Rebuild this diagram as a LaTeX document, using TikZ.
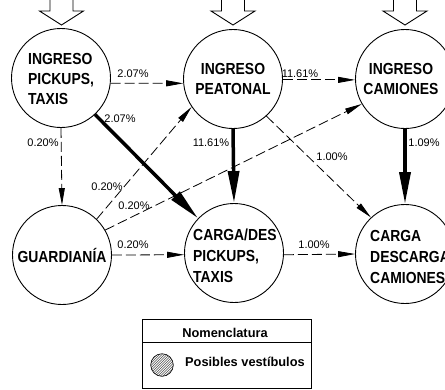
\documentclass[tikz,border=0pt]{standalone}
\usepackage{fontspec}
\setmainfont{Liberation Sans}
\newfontfamily\cadfont[FakeStretch=0.87]{Liberation Sans}
\usetikzlibrary{arrows.meta}
\begin{document}
\begin{tikzpicture}[x=1pt,y=-1pt,
 circ/.style={circle,draw,line width=0.9pt,minimum size=99pt,inner sep=0pt},
 lbl/.style={font=\cadfont\bfseries\fontsize{16}{20}\selectfont, inner sep=0pt},
 pct/.style={font=\fontsize{11}{13}\selectfont, inner sep=0pt},
 thinarrow/.style={line width=0.8pt, dash pattern=on 10pt off 4pt, -{Triangle[length=17pt,width=6pt]}},
 thickarrow/.style={line width=3.5pt, -{Triangle[length=32pt,width=11pt]}},
 blockarrow/.style={line width=0.9pt, line join=miter},
 legtext/.style={font=\bfseries\fontsize{12.8}{15}\selectfont, inner sep=0pt}
]
\useasboundingbox (0,0) rectangle (445,389);

% circles
\node[circ] (A) at (61,78) {};
\node[circ] (B) at (233,79) {};
\node[circ] (C) at (405,79) {};
\node[circ] (D) at (62,255) {};
\node[circ] (E) at (234,253) {};
\node[circ] (F) at (405,254) {};

% texts
\node[lbl, anchor=west, align=left] (tA) at (28,79) {INGRESO\\PICKUPS,\\TAXIS};
\node[lbl, align=center] (tB) at (233,78.5) {INGRESO\\PEATONAL};
\node[lbl, align=center] (tC) at (401,78.5) {INGRESO\\CAMIONES};
\node[lbl, anchor=base] (tD) at (62,262) {GUARDIANÍA};
\node[lbl, anchor=west, align=left, font=\cadfont\bfseries\fontsize{16}{21}\selectfont] (tE) at (193,256) {CARGA/DES\\PICKUPS,\\TAXIS};
\node[lbl, anchor=west, align=left, font=\cadfont\bfseries\fontsize{16}{21}\selectfont] (tF) at (370,256.5) {CARGA\\DESCARGA\\CAMIONES};

% top block arrows
\foreach \cx in {61.5,233,405}{
  \draw[blockarrow] (\cx-11.5,-1) -- (\cx-11.5,11) -- (\cx-22,11) -- (\cx,25) -- (\cx+22,11) -- (\cx+11.5,11) -- (\cx+11.5,-1);
}

% connectors
\draw[thinarrow] (A.-6) -- (B.185);
\draw[thinarrow] (B.-1) -- (C.181);
\draw[thickarrow] (A.-47) -- (E.136);
\draw[thinarrow] (A.-90) -- (D.90);
\draw[thickarrow] (B.-90) -- (E.90);
\draw[thinarrow] (B.-48) -- (F.133);
\draw[thickarrow] (C.-90) -- (F.90);
\draw[thinarrow] (D.46) -- (B.214);
\draw[thinarrow] (D.30) -- (C.210);
\draw[thinarrow] (D.0) -- (E.182);
\draw[thinarrow] (E.-2) -- (F.180);

% percentage labels
\node[pct] (p1) at (133,74) {2.07\%};
\node[pct] (p2) at (300,73.5) {11.61\%};
\node[pct] (p3) at (120,118.5) {2.07\%};
\node[pct] (p4) at (43,143) {0.20\%};
\node[pct] (p5) at (211,143) {11.61\%};
\node[pct] (p6) at (424,143) {1.09\%};
\node[pct] (p7) at (332,157) {1.00\%};
\node[pct] (p8) at (107,187) {0.20\%};
\node[pct] (p9) at (134,206) {0.20\%};
\node[pct] (p10) at (133,245) {0.20\%};
\node[pct] (p11) at (314,245) {1.00\%};

% legend
\draw[line width=0.9pt] (142,319) rectangle (311,388);
\draw[line width=0.9pt] (142,342) -- (311,342);
\node[legtext] (ln) at (225,333) {Nomenclatura};
\begin{scope}
  \clip (162,365) circle (11.3);
  \foreach \k in {-33,-30.5,...,33}{
    \draw[line width=0.4pt, black!70] (162+\k-16,365+16) -- (162+\k+16,365-16);
  }
\end{scope}
\draw[line width=0.6pt] (162,365) circle (11.3);
\node[legtext, anchor=west] (lv) at (185,362) {Posibles vestíbulos};
\end{tikzpicture}
\end{document}
